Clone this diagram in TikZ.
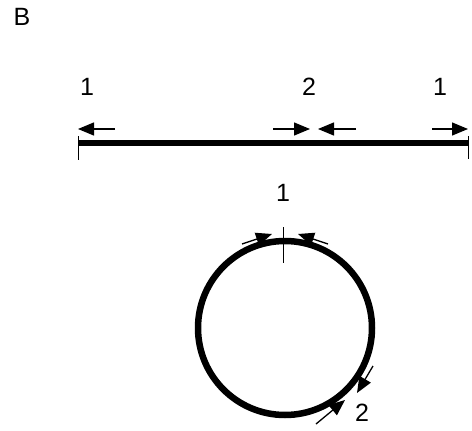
\documentclass[tikz,border=0pt]{standalone}
\usepackage{fontspec}
\setmainfont{Liberation Sans}
\usetikzlibrary{arrows.meta}
\begin{document}
\begin{tikzpicture}[x=1pt, y=-1pt, every node/.style={font=\fontsize{25}{30}\selectfont},
    rod/.style={line width=6pt},
    tick/.style={line width=0.9pt},
    force/.style={line width=1.3pt, -{Triangle[length=16pt,width=13pt]}}]
    \useasboundingbox (0,0) rectangle (472,431);

    % --- panel letter ---
    \node (panel) at (22,17) {B};

    % --- straight rod with its ends ---
    \coordinate (rodL) at (78,143);
    \coordinate (rodR) at (468,143);
    \draw[rod] (rodL) -- (rodR);
    \draw[tick] (78,136) -- (78,160);
    \draw[tick] (468,136) -- (468,159);

    % forces on the rod
    \coordinate (fAa) at (115,129);  \coordinate (fAb) at (78,129);
    \coordinate (fBa) at (273,129);  \coordinate (fBb) at (310,129);
    \coordinate (fCa) at (356,129);  \coordinate (fCb) at (318,129);
    \coordinate (fDa) at (432,129);  \coordinate (fDb) at (468,129);
    \draw[force] (fAa) -- (fAb);
    \draw[force] (fBa) -- (fBb);
    \draw[force] (fCa) -- (fCb);
    \draw[force] (fDa) -- (fDb);
    \node (oneL) at (87,87) {1};
    \node (two)  at (309,87) {2};
    \node (oneR) at (440,87) {1};

    % --- ring ---
    \coordinate (O) at (285,328);
    \draw[line width=6.5pt] (O) circle[radius=87pt];
    \draw[tick] (283,227) -- (283,263);
    \node (ringOne) at (283,193) {1};

    % forces on the ring (top, cut 1)
    \coordinate (gAa) at (242,244);  \coordinate (gAb) at (272,234);
    \coordinate (gBa) at (328,244);  \coordinate (gBb) at (298,234);
    \draw[force] (gAa) -- (gAb);
    \draw[force] (gBa) -- (gBb);

    % forces on the ring (cut 2)
    \coordinate (gCa) at (373,366);  \coordinate (gCb) at (357,393);
    \coordinate (gDa) at (316,424);  \coordinate (gDb) at (345,400);
    \draw[force] (gCa) -- (gCb);
    \draw[force] (gDa) -- (gDb);
    \node (ringTwo) at (362,413) {2};
\end{tikzpicture}
\end{document}
